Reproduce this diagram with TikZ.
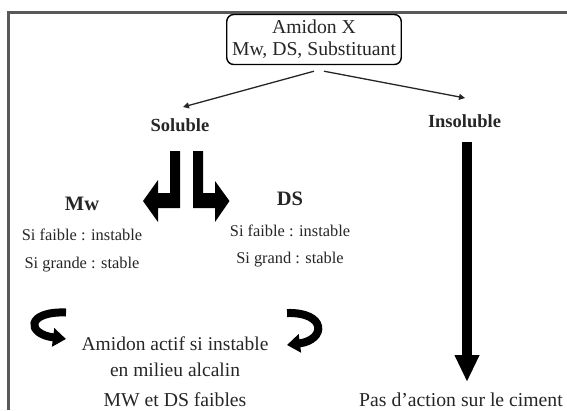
\documentclass[tikz,border=0pt]{standalone}
\usepackage{fontspec}
\setmainfont{Liberation Serif}
\usetikzlibrary{arrows.meta,calc}
\tikzset{
  txt/.style={inner sep=0pt, align=center, text=black!85},
  big/.style={txt, font=\fontsize{19.7}{22}\selectfont},
  head/.style={txt, font=\bfseries\fontsize{18.5}{22}\selectfont},
  headb/.style={txt, font=\bfseries\fontsize{20.5}{23}\selectfont},
  sub/.style={txt, font=\fontsize{16.4}{19}\selectfont},
  thin/.style={line width=1.3pt, black!85, -{Triangle[length=6pt,width=6pt]}},
  curl/.style={black, line width=8pt, -{Triangle[length=13pt,width=18pt]}},
  frame/.style={line width=2.5pt, black!65}
}
\begin{document}
\begin{tikzpicture}[x=1pt,y=-1pt]
\useasboundingbox (0,0) rectangle (567,410);
% frame
\draw[frame] (567,12.5) -- (8.5,12.5) -- (8.5,410);
% top box
\node[draw, rounded corners=7pt, line width=1.4pt, minimum width=174.5pt, minimum height=50pt, inner sep=0pt, text=black!85,
      font=\fontsize{19.7}{22}\selectfont, align=center] (top) at (314,39.5) {Amidon X\\Mw, DS, Substituant};
\node[head] (sol) at (180,125) {Soluble};
\node[head] (insol) at (464.5,121) {Insoluble};
\node[headb] (mw) at (82,204) {Mw};
\node[headb] (ds) at (290,199) {DS};
\node[sub] (mw1) at (82,235) {Si faible : instable};
\node[sub] (mw2) at (82,265) {Si grande : stable};
\node[sub] (ds1) at (290,231) {Si faible : instable};
\node[sub] (ds2) at (290,260) {Si grand : stable};
\node[big, font=\fontsize{19.5}{26}\selectfont] (act) at (175,357) {Amidon actif si instable\\en milieu alcalin};
\node[big] (mwds) at (175,400) {MW et DS faibles};
\node[big] (pas) at (461,400) {Pas d'action sur le ciment};
% thin arrows
\draw[thin] ($(top.south)+(0,6)$) -- ($(sol.center)+(3,-18)$);
\draw[thin] ($(top.south)+(10,6)$) -- ($(insol.center)+(0.5,-23)$);
% bent arrows
\fill[black] (170,151) -- (180,151) -- (180,208) -- (158,208) -- (158,222) -- (143,201) -- (158,180) -- (158,193) -- (170,193) -- cycle;
\fill[black] (193,151) -- (203,151) -- (203,193) -- (215,193) -- (215,181) -- (229.5,201) -- (215,222) -- (215,208) -- (193,208) -- cycle;
% big vertical arrow
\coordinate (vtop) at (467,142);
\coordinate (vend) at (467,382);
\draw[black, line width=10pt, -{Triangle[length=27pt,width=23pt]}] (vtop) -- (vend);
% curved arrows
\draw[curl] (66,312.5) .. controls (26,311) and (26,334) .. (66,339);
\draw[curl] (287,313) .. controls (327,312) and (326,340) .. (287,345);
\end{tikzpicture}
\end{document}
